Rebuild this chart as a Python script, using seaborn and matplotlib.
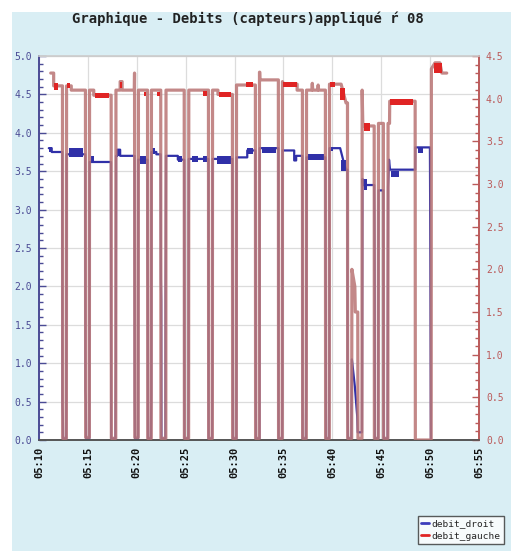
import numpy as np
import pandas as pd
import matplotlib
matplotlib.use("Agg")
import matplotlib.pyplot as plt
from matplotlib.patches import Rectangle
from matplotlib.lines import Line2D
import seaborn as sns

# ---------------- data ----------------
title = "Graphique - Debits (capteurs)appliqué ŕ 08"
x_ticks = [10, 15, 20, 25, 30, 35, 40, 45, 50, 55]
x_labels = ["05:10", "05:15", "05:20", "05:25", "05:30", "05:35", "05:40", "05:45", "05:50", "05:55"]
left_ticks = [0.0, 0.5, 1.0, 1.5, 2.0, 2.5, 3.0, 3.5, 4.0, 4.5, 5.0]
right_ticks = [0.0, 0.5, 1.0, 1.5, 2.0, 2.5, 3.0, 3.5, 4.0, 4.5]
series_names = ["debit_droit", "debit_gauche"]

# debit_gauche (right axis), time in minutes after 05:00
red_t = [11.2, 11.5, 11.5, 12.40, 12.42, 12.80, 12.82, 13.3, 13.3,
         14.75, 14.77, 15.15, 15.17, 15.6, 15.6,
         17.38, 17.40, 17.85, 17.87, 18.3, 18.3, 18.5, 18.5,
         19.75, 19.77, 19.80, 20.15, 20.17,
         21.10, 21.12, 21.48, 21.50,
         22.45, 22.47, 22.97, 22.99,
         24.85, 24.87, 25.30, 25.32,
         27.33, 27.35, 27.73, 27.75, 28.3, 28.3,
         29.78, 29.80, 30.18, 30.20,
         32.13, 32.15, 32.53, 32.55, 32.58, 32.60,
         34.48, 34.50, 34.88, 34.90, 35.0, 36.4, 36.4,
         36.94, 36.96, 37.34, 37.36, 37.9, 37.95, 38.0, 38.5, 38.55, 38.6,
         39.29, 39.31, 39.69, 39.71, 40.9, 41.4,
         41.55, 41.57, 41.98, 42.00, 42.3, 42.35,
         42.60, 42.62, 43.03, 43.05, 43.12,
         44.28, 44.30, 44.70, 44.72,
         45.22, 45.24, 45.68, 45.70, 45.85, 45.87,
         48.47, 48.49, 50.11, 50.13, 50.5, 51.0, 51.2, 51.7]
red_v = [4.30, 4.30, 4.15, 4.15, 0.02, 0.02, 4.15, 4.15, 4.10,
         4.10, 0.03, 0.03, 4.10, 4.10, 4.04,
         4.04, 0.02, 0.02, 4.10, 4.10, 4.20, 4.20, 4.10,
         4.10, 4.30, 0.03, 0.03, 4.10,
         4.10, 0.02, 0.02, 4.10,
         4.10, 0.02, 0.02, 4.10,
         4.10, 0.02, 0.02, 4.10,
         4.10, 0.02, 0.02, 4.10, 4.10, 4.05,
         4.05, 0.02, 0.02, 4.16,
         4.16, 0.02, 0.02, 4.31, 4.31, 4.22,
         4.22, 0.02, 0.02, 4.20, 4.17, 4.17, 4.10,
         4.10, 0.02, 0.02, 4.10, 4.10, 4.18, 4.10, 4.10, 4.16, 4.10,
         4.10, 0.02, 0.02, 4.17, 4.17, 3.95,
         3.95, 0.02, 0.02, 2.00, 1.80, 1.50,
         1.50, 0.02, 0.02, 4.10, 3.68,
         3.68, 0.02, 0.02, 3.71,
         3.71, 0.02, 0.02, 3.71, 3.71, 3.97,
         3.97, 0.00, 0.00, 4.35, 4.42, 4.42, 4.30, 4.30]

# debit_droit (left axis)
blue_t = [11.0, 11.3, 11.3, 12.38, 12.40, 12.44, 12.46, 12.78, 12.82,
          14.73, 14.75, 14.79, 14.81, 15.15, 15.17,
          17.36, 17.38, 17.82, 17.86, 17.88, 18.0, 18.0, 18.3, 18.3,
          19.78, 19.80, 19.82, 20.13, 20.15,
          21.10, 21.11, 21.13, 21.15, 21.45, 21.48, 21.50, 22.0, 22.0,
          22.45, 22.47, 22.50, 22.52, 22.93, 22.95, 22.97, 22.99, 24.2, 24.2,
          24.85, 24.87, 25.27, 25.30, 25.32,
          27.33, 27.35, 27.70, 27.73, 27.75,
          29.78, 29.80, 29.82, 29.84, 30.18, 30.20, 31.3, 31.3,
          32.13, 32.15, 32.17, 32.19, 32.55, 32.57,
          34.48, 34.50, 34.86, 34.88, 34.90, 36.1, 36.1, 36.3, 36.3,
          36.94, 36.96, 37.30, 37.33, 37.36,
          39.29, 39.31, 39.33, 39.35, 39.66, 39.69, 39.71, 40.8, 41.1, 41.4,
          41.55, 41.57, 41.60, 41.95, 42.0, 42.3, 42.55, 42.60, 43.03, 43.08, 43.15,
          44.28, 44.31, 44.33, 44.35, 44.68, 44.72,
          45.22, 45.24, 45.26, 45.66, 45.70, 45.8, 45.9,
          48.47, 48.49, 49.98, 50.03, 50.08]
blue_v = [3.80, 3.80, 3.75, 3.75, 0.45, 0.30, 0.02, 0.02, 3.72,
          3.72, 0.65, 0.50, 0.02, 0.02, 3.62,
          3.62, 0.02, 0.02, 1.00, 3.70, 3.70, 3.78, 3.78, 3.70,
          3.70, 0.50, 0.02, 0.02, 3.65,
          3.65, 2.45, 1.95, 0.02, 0.02, 0.60, 3.75, 3.75, 3.72,
          3.72, 2.10, 1.80, 0.02, 0.02, 1.90, 2.45, 3.70, 3.70, 3.65,
          3.65, 0.02, 0.02, 0.90, 3.66,
          3.66, 0.02, 0.02, 0.85, 3.66,
          3.66, 2.20, 1.80, 0.02, 0.02, 3.68, 3.68, 3.77,
          3.77, 2.60, 0.55, 0.02, 0.02, 3.80,
          3.80, 0.02, 0.02, 0.60, 3.77, 3.77, 3.64, 3.64, 3.70,
          3.70, 0.02, 0.02, 0.90, 3.68,
          3.68, 2.20, 1.70, 0.02, 0.02, 1.10, 3.80, 3.80, 3.65, 3.52,
          3.52, 0.50, 0.02, 0.02, 1.05, 0.70, 0.30, 0.10, 0.10, 3.40, 3.32,
          3.32, 2.60, 1.90, 0.02, 0.02, 3.25,
          3.25, 0.68, 0.02, 0.02, 3.30, 3.65, 3.52,
          3.52, 3.81, 3.81, 2.30, 0.02]

# jitter blocks (fast oscillations): start, end, low, high
red_blk_t0 = [11.5, 12.9, 15.7, 18.3, 20.7, 22.05, 26.8, 28.4, 31.2, 35.0, 39.8, 40.8, 43.2, 45.9, 50.4]
red_blk_t1 = [11.9, 13.2, 17.2, 18.5, 20.95, 22.4, 27.2, 29.6, 31.9, 36.4, 40.3, 41.3, 43.9, 48.3, 51.2]
red_blk_lo = [4.10, 4.12, 4.01, 4.12, 4.03, 4.03, 4.03, 4.02, 4.14, 4.14, 4.14, 3.98, 3.62, 3.93, 4.30]
red_blk_hi = [4.18, 4.18, 4.07, 4.20, 4.08, 4.08, 4.09, 4.08, 4.20, 4.20, 4.20, 4.12, 3.72, 4.00, 4.42]

blue_blk_t0 = [11.0, 13.1, 15.3, 18.0, 20.3, 21.6, 24.2, 25.6, 26.8, 28.2, 31.3, 32.8, 37.5, 39.8, 40.9, 43.2, 46.0, 48.8]
blue_blk_t1 = [11.3, 14.5, 15.6, 18.4, 20.9, 21.9, 24.6, 26.3, 27.2, 29.6, 31.9, 34.2, 39.1, 40.1, 41.4, 43.5, 46.8, 49.3]
blue_blk_lo = [3.75, 3.68, 3.62, 3.70, 3.60, 3.72, 3.62, 3.62, 3.62, 3.60, 3.72, 3.74, 3.64, 3.76, 3.50, 3.25, 3.42, 3.74]
blue_blk_hi = [3.82, 3.80, 3.70, 3.78, 3.70, 3.80, 3.70, 3.70, 3.70, 3.70, 3.80, 3.82, 3.72, 3.82, 3.65, 3.40, 3.50, 3.82]

# ---------------- style ----------------
sns.set_theme(style="white")
plt.rcParams['font.family'] = ['DejaVu Sans Mono', 'DejaVu Sans']

BG = '#d9eef4'
BLUE = '#3030a8'
RED_LINE = '#bb7878'
RED_BLK = '#e02424'
LEFT_C = '#4b4b95'
RIGHT_C = '#bb5a5a'

W, H = 511, 551
fig = plt.figure(figsize=(W / 100, H / 100), dpi=100, facecolor='white')
fig.patches.append(Rectangle((12 / W, 0), 1 - 12 / W, 1 - 12 / H, transform=fig.transFigure,
                             facecolor=BG, edgecolor='none', zorder=-10))

ax = fig.add_axes([39 / W, 1 - 440 / H, 440 / W, 384 / H])
ax.set_facecolor('white')
ax.set_xlim(10, 55)
ax.set_ylim(0, 5)
ax2 = ax.twinx()
ax2.set_ylim(0, 4.5)

df_b = pd.DataFrame({"t": blue_t, "v": blue_v})
df_r = pd.DataFrame({"t": red_t, "v": red_v})

sns.lineplot(data=df_b, x="t", y="v", ax=ax, sort=False, estimator=None,
             color=BLUE, linewidth=1.6, zorder=3)
for a, b, lo, hi in zip(blue_blk_t0, blue_blk_t1, blue_blk_lo, blue_blk_hi):
    ax.fill_between([a, b], [lo, lo], [hi, hi], color=BLUE, linewidth=0, zorder=3)

sns.lineplot(data=df_r, x="t", y="v", ax=ax2, sort=False, estimator=None,
             color=RED_LINE, linewidth=2.3, alpha=0.88, zorder=3)
for a, b, lo, hi in zip(red_blk_t0, red_blk_t1, red_blk_lo, red_blk_hi):
    ax2.fill_between([a, b], [lo, lo], [hi, hi], color=RED_BLK, linewidth=0, zorder=4)

ax.set_xlim(10, 55)
ax.set_ylim(0, 5)
ax2.set_ylim(0, 4.5)

# grid
for yv in left_ticks:
    ax.axhline(yv, color='#dcdcdc', linewidth=0.9, zorder=0)
for xv in x_ticks:
    ax.axvline(xv, color='#dcdcdc', linewidth=0.9, zorder=0)

# ticks
ax.set_xticks(x_ticks)
ax.set_xticklabels(x_labels, rotation=90, fontsize=7.5, fontweight='bold', color='#111111')
ax.set_xticks(np.arange(10, 56, 1), minor=True)
ax.set_yticks(left_ticks)
ax.set_yticklabels([f"{v:.1f}" for v in left_ticks], fontsize=7, color=LEFT_C)
ax.set_yticks(np.arange(0, 5.01, 0.1), minor=True)
ax2.set_yticks(right_ticks)
ax2.set_yticklabels([f"{v:.1f}" for v in right_ticks], fontsize=7, color=RIGHT_C)
ax2.set_yticks(np.arange(0, 4.51, 0.1), minor=True)

ax.tick_params(axis='x', which='major', direction='in', length=4, width=1, color='#333333', pad=5)
ax.tick_params(axis='x', which='minor', direction='in', length=2.5, width=1.2, color='#333333')
ax.tick_params(axis='y', which='major', direction='in', length=5, width=1, color=LEFT_C, pad=5)
ax.tick_params(axis='y', which='minor', direction='in', length=3, width=1, color=LEFT_C)
ax2.tick_params(axis='y', which='major', direction='in', length=5, width=1, color=RIGHT_C, pad=5)
ax2.tick_params(axis='y', which='minor', direction='in', length=3, width=1, color=RIGHT_C)

ax.set_xlabel("")
ax.set_ylabel("")
ax2.set_xlabel("")
ax2.set_ylabel("")

for a_ in (ax, ax2):
    a_.spines['top'].set_color('#cccccc')
    a_.spines['bottom'].set_color('#555555')
    a_.spines['left'].set_color(LEFT_C)
    a_.spines['right'].set_color(RIGHT_C)
    for s in a_.spines.values():
        s.set_linewidth(1.2)
ax.spines['top'].set_linewidth(0.8)

fig.text(248 / W, 1 - 19 / H, title, ha='center', va='center',
         fontsize=10, fontweight='bold', color='#222222')

handles = [Line2D([0], [0], color='#3d3dbb', lw=2), Line2D([0], [0], color=RED_BLK, lw=2)]
leg = fig.legend(handles, series_names, loc='upper left',
                 bbox_to_anchor=(418 / W, 1 - 516 / H), frameon=True, fancybox=False,
                 edgecolor='#333333', facecolor='white', fontsize=6.8,
                 handlelength=0.8, handletextpad=0.3, borderpad=0.35, labelspacing=0.35,
                 borderaxespad=0.0)
leg.get_frame().set_linewidth(1.0)

fig.savefig("out.png", dpi=100, facecolor=fig.get_facecolor())
